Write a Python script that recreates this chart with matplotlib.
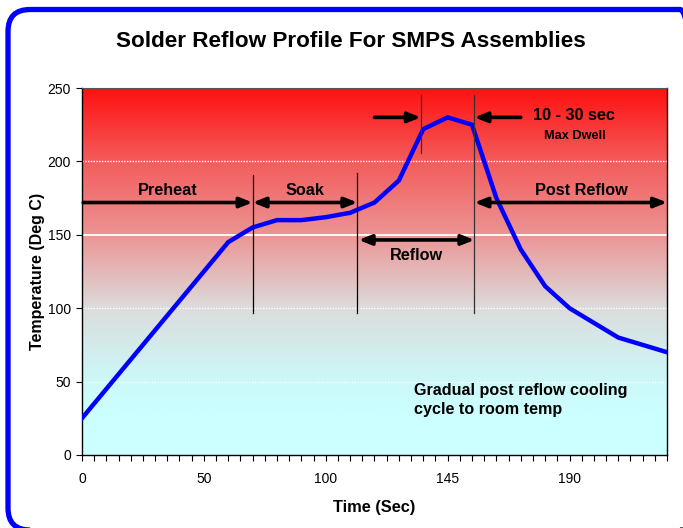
import numpy as np
import matplotlib.pyplot as plt
from matplotlib.patches import FancyBboxPatch
from matplotlib.colors import to_rgb

# Data: time categories (sec) and temperature (deg C)
times = [0, 10, 20, 30, 40, 50, 60, 70, 80, 90, 100, 110, 120, 130, 140,
         145, 150, 160, 170, 180, 190, 200, 210, 220, 230]
temps = [25, 45, 65, 85, 105, 125, 145, 155, 160, 160, 162, 165, 172, 187, 222,
         230, 225, 175, 140, 115, 100, 90, 80, 75, 70]
tick_every = 5
y_ticks = [0, 50, 100, 150, 200, 250]

plt.rcParams['font.family'] = ['Liberation Sans', 'DejaVu Sans']

fig = plt.figure(figsize=(6.83, 5.28), dpi=100)
ax = fig.add_axes([0.120, 0.1383, 0.8566, 0.695])

idx = np.arange(len(times))
nmax = len(times) - 1

# background gradient: red at top, grey in the middle, cyan at the bottom
stops = [(0, '#CCFFFF'), (30, '#CCFFFF'), (55, '#CDF6F6'), (100, '#DCDCDC'),
         (150, '#EC9494'), (200, '#F45C5C'), (250, '#FF1010')]
yy = np.linspace(0, 250, 400)
cols = np.array([to_rgb(c) for _, c in stops])
sv = [s for s, _ in stops]
grad = np.stack([np.interp(yy, sv, cols[:, k]) for k in range(3)], axis=-1)
ax.imshow(grad[:, None, :], extent=[0, nmax, 0, 250], origin='lower',
          aspect='auto', zorder=0, interpolation='bilinear')

for g in [50, 100, 200]:
    ax.axhline(g, color='white', lw=1, ls=(0, (1, 1)), zorder=1)
ax.axhline(150, color='white', lw=1.3, zorder=1)

ax.plot(idx, temps, color='#0000FF', lw=3.2, zorder=3, solid_joinstyle='miter')

ax.set_xlim(0, nmax)
ax.set_ylim(0, 250)
ax.set_yticks(y_ticks)
ax.set_xticks(idx[::tick_every])
ax.set_xticklabels([str(t) for t in times[::tick_every]])
ax.set_xticks(np.arange(0, nmax + 0.01, 0.5), minor=True)
ax.tick_params(axis='both', which='major', labelsize=10, length=4, width=0.8, pad=4)
ax.tick_params(axis='x', which='minor', length=4, width=0.8)
ax.tick_params(axis='x', which='major', pad=8)
ax.spines['top'].set_linestyle((0, (1, 1)))
ax.spines['top'].set_color('#555555')
for s in ['left', 'bottom', 'right']:
    ax.spines[s].set_linewidth(1)

ax.set_xlabel('Time (Sec)', fontsize=11.8, fontweight='bold', labelpad=10)
ax.set_ylabel('Temperature (Deg C)', fontsize=11.5, fontweight='bold', labelpad=2)
fig.text(0.513, 0.921, 'Solder Reflow Profile For SMPS Assemblies',
         ha='center', va='center', fontsize=16.2, fontweight='bold')

# phase markers
for x0, y0, y1, c in [(7.0, 97, 191, 'black'), (11.3, 97, 192, 'black'),
                      (13.9, 206, 245, '#333333'), (16.1, 97, 245, '#333333')]:
    ax.plot([x0, x0], [y0, y1], color=c, lw=0.9, zorder=4)

def arrow(x0, x1, y, style):
    ax.annotate('', xy=(x1, y), xytext=(x0, y),
                arrowprops=dict(arrowstyle=style + ',head_length=0.75,head_width=0.3',
                                color='black', lw=2.6, shrinkA=0, shrinkB=0),
                zorder=5)

arrow(0.05, 7.0, 172, '-|>')
arrow(7.0, 11.3, 172, '<|-|>')
arrow(16.1, 24.0, 172, '<|-|>')
arrow(11.35, 16.1, 146.5, '<|-|>')
arrow(12.0, 13.9, 230, '-|>')
arrow(18.0, 16.1, 230, '-|>')

bold = dict(fontweight='bold', ha='center', va='center', zorder=6)
ax.text(3.53, 180.5, 'Preheat', fontsize=11.7, **bold)
ax.text(9.15, 180.5, 'Soak', fontsize=11.7, **bold)
ax.text(13.74, 135.6, 'Reflow', fontsize=11.7, **bold)
ax.text(20.5, 180.5, 'Post Reflow', fontsize=11.7, **bold)
ax.text(20.2, 231.6, '10 - 30 sec', fontsize=11.7, **bold)
ax.text(20.2, 217.5, 'Max Dwell', fontsize=9.2, **bold)
ax.text(13.62, 37.5, 'Gradual post reflow cooling\ncycle to room temp',
        fontsize=11.6, fontweight='bold', ha='left', va='center', linespacing=1.3, zorder=6)

# rounded blue frame (partly cut off at right and bottom)
frame = FancyBboxPatch((8, -2), 694, 520.5, boxstyle='round,pad=0,rounding_size=22',
                       transform=None, fill=False, edgecolor='#0000FF', lw=3.8)
fig.patches.append(frame)

fig.savefig('out.png', dpi=100)
